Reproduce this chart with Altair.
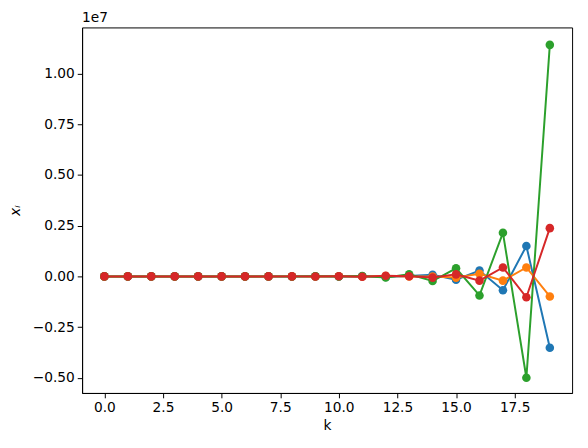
import altair as alt
import pandas as pd

k = list(range(20))
blue = [0, 1, -2, 5, -10, 30, -80, 200, -600, 1500, -4000, 10000, -25000, 20000, 80000, -160000, 290000, -680000, 1500000, -3520000]
orange = [0, 1, 2, -3, 8, -20, 50, -130, 350, -900, 2500, -6000, 15000, -10000, -5000, -60000, 130000, -210000, 440000, -990000]
green = [0, 2, -3, 10, -25, 70, -180, 500, -1300, 3500, -9000, 24000, -50000, 100000, -230000, 400000, -940000, 2150000, -5000000, 11420000]
red = [0, -1, 3, -6, 15, -40, 100, -280, 700, -1900, 5000, -13000, 30000, 10000, -60000, 100000, -210000, 440000, -1030000, 2380000]

series = {"0": blue, "1": orange, "2": green, "3": red}
colors = ["#1f77b4", "#ff7f0e", "#2ca02c", "#d62728"]

rows = []
for name, vals in series.items():
    for kk, v in zip(k, vals):
        rows.append({"k": kk, "x": v / 1e7, "s": name})
df = pd.DataFrame(rows)

xticks = [0, 2.5, 5, 7.5, 10, 12.5, 15, 17.5]
yticks = [-0.5, -0.25, 0, 0.25, 0.5, 0.75, 1.0]

xenc = alt.X("k:Q", scale=alt.Scale(domain=[-0.95, 19.95], nice=False, zero=False),
             axis=alt.Axis(values=xticks, title="k", grid=False,
                           tickSize=4.9, labelPadding=3, titlePadding=4,
                           labelExpr="replace(format(datum.value, '.1f'), '-', '−')"))
yenc = alt.Y("x:Q", scale=alt.Scale(domain=[-0.575, 1.228], nice=False, zero=False),
             axis=alt.Axis(values=yticks, title="xᵢ", grid=False, tickSize=4.9,
                           labelPadding=3, titlePadding=10,
                           labelExpr="replace(format(datum.value, '.2f'), '-', '−')"))

layers = []
for i, name in enumerate(series.keys()):
    sub = df[df.s == name]
    c = alt.Chart(sub)
    layers.append(c.mark_line(strokeWidth=2, color=colors[i]).encode(x=xenc, y=yenc))
    layers.append(c.mark_circle(size=75, opacity=1, color=colors[i]).encode(x=xenc, y=yenc))

exp_label = alt.Chart(pd.DataFrame({"t": ["1e7"]})).mark_text(
    align="left", baseline="bottom", fontSize=13.9, font="DejaVu Sans", color="black"
).encode(x=alt.value(0), y=alt.value(-2), text="t:N")

chart = alt.layer(*layers, exp_label).properties(
    width=496, height=370,
    padding={"left": 75, "top": 17, "right": 8, "bottom": 50},
    autosize=alt.AutoSizeParams(type="none"),
).configure_view(stroke="black", strokeWidth=1).configure_axis(
    labelFont="DejaVu Sans", titleFont="DejaVu Sans", labelFontSize=13.9, titleFontSize=13.9,
    labelColor="black", titleColor="black", tickColor="black", domainColor="black",
    titleFontWeight="normal", domain=True
).configure_axisY(titleFontStyle="italic")

chart.save("out.html", embed_options={"renderer": "svg", "actions": False})
